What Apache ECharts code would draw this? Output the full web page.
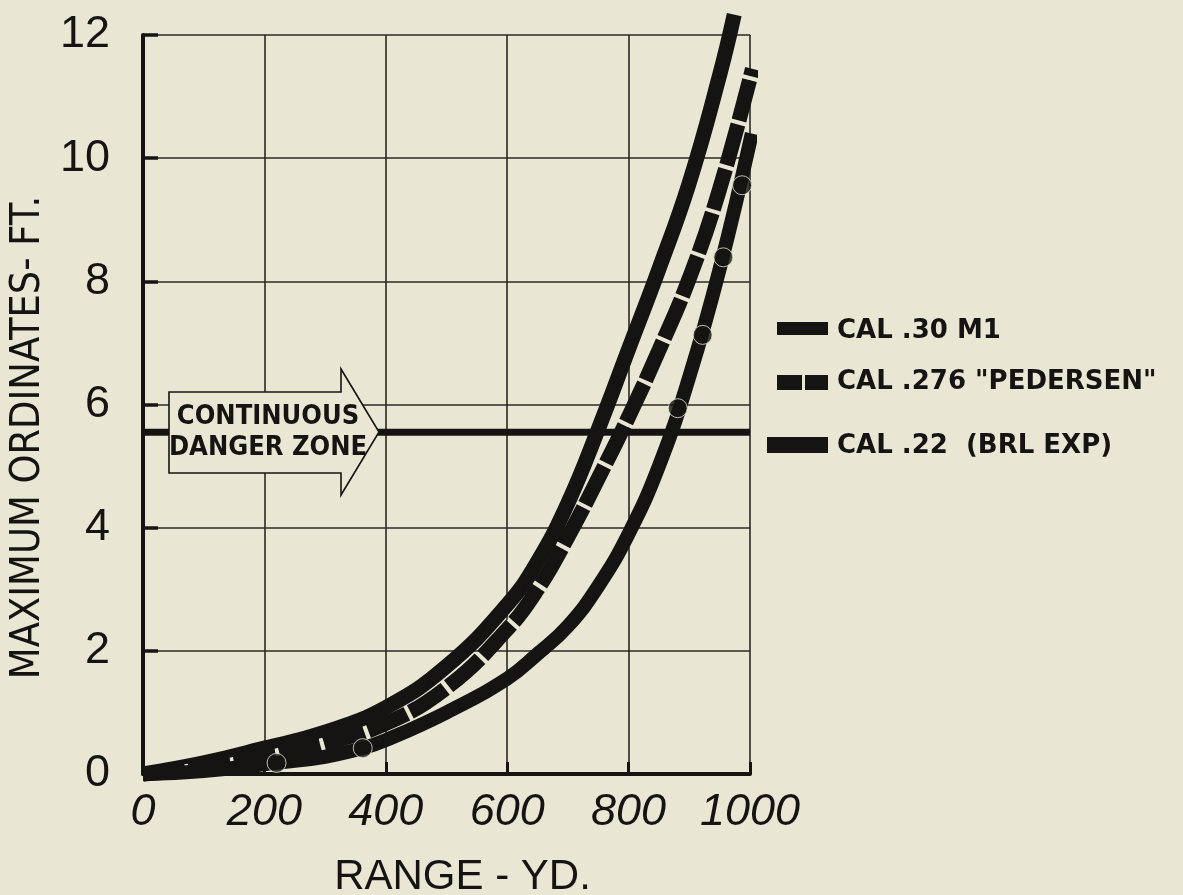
<!DOCTYPE html>
<html><head><meta charset="utf-8">
<script src="https://cdn.jsdelivr.net/npm/echarts@6/dist/echarts.min.js"></script>
<style>html,body{margin:0;padding:0;background:#E9E7D4}#c{width:1183px;height:895px}</style>
</head><body><div id="c"></div>
<script>
// ---- data ----
const xTicks = [0, 200, 400, 600, 800, 1000];
const yTicks = [0, 2, 4, 6, 8, 10, 12];
const seriesNames = ['CAL .30 M1', 'CAL .276 "PEDERSEN"', 'CAL .22  (BRL EXP)'];

const m1X = [0, 100, 200, 300, 400, 500, 600, 650, 700, 750, 800, 850, 900, 950, 974];
const m1Y = [0, 0.18, 0.42, 0.68, 1.08, 1.75, 2.75, 3.45, 4.4, 5.6, 6.9, 8.2, 9.6, 11.35, 12.33];

const pedX = [0, 100, 200, 300, 400, 500, 600, 650, 700, 750, 800, 850, 900, 950, 1004];
const pedY = [0, 0.1, 0.28, 0.5, 0.82, 1.4, 2.35, 3.0, 3.85, 4.8, 5.8, 6.88, 8.05, 9.5, 11.45];

const brlX = [0, 100, 220, 300, 362, 400, 500, 600, 650, 700, 750, 800, 850, 900, 950, 1003];
const brlY = [0, 0.05, 0.18, 0.28, 0.42, 0.55, 1.0, 1.55, 1.95, 2.4, 3.05, 3.9, 5.0, 6.45, 8.2, 10.4];

const brlDotX = [220, 362, 881, 922, 956, 987];
const brlDotY = [0.18, 0.42, 5.94, 7.13, 8.39, 9.56];

const dangerX = [0, 1000];
const dangerY = 5.55;
const dangerLabel = ['CONTINUOUS', 'DANGER ZONE'];

const xName = 'RANGE - YD.';
const yName = 'MAXIMUM ORDINATES- FT.';

// ---- styling ----
const BG = '#E9E7D4';
const INK = '#151412';
const GRIDC = '#2a2824';
const SANS = "'Liberation Sans', Arial, sans-serif";
const COND = "'DejaVu Sans Condensed', 'DejaVu Sans', sans-serif";
const zip = (xs, ys) => xs.map((x, i) => [x, ys[i]]);

const chart = echarts.init(document.getElementById('c'), null, {renderer: 'canvas'});

const lineBase = {type: 'line', showSymbol: false, clip: false, smooth: 0.45, silent: true, animation: false};

chart.setOption({
  backgroundColor: BG,
  animation: false,
  grid: {left: 143, right: 433, top: 35, bottom: 121, containLabel: false, outerBoundsMode: 'none'},
  xAxis: {
    type: 'value', min: xTicks[0], max: xTicks[xTicks.length - 1], interval: xTicks[1] - xTicks[0],
    name: xName, nameLocation: 'middle', nameGap: 82,
    nameTextStyle: {fontFamily: SANS, fontSize: 42, color: INK, padding: [0, 0, 0, 32]},
    axisLine: {show: true, onZero: false, lineStyle: {color: INK, width: 4}},
    axisTick: {show: true, inside: true, length: 12, lineStyle: {color: INK, width: 3}},
    axisLabel: {fontFamily: SANS, fontSize: 45, fontStyle: 'italic', color: INK, margin: 16,
                formatter: v => String(v)},
    splitLine: {show: true, lineStyle: {color: GRIDC, width: 1.6}}
  },
  yAxis: {
    type: 'value', min: yTicks[0], max: yTicks[yTicks.length - 1], interval: yTicks[1] - yTicks[0],
    name: yName, nameLocation: 'middle', nameGap: 72, nameRotate: 90,
    nameTextStyle: {fontFamily: COND, fontSize: 41, color: INK, padding: [0, 66, 0, 0]},
    axisLine: {show: true, lineStyle: {color: INK, width: 4}},
    axisTick: {show: true, inside: true, length: 15, lineStyle: {color: INK, width: 3.5}},
    axisLabel: {fontFamily: SANS, fontSize: 45, color: INK, margin: 33, formatter: v => String(v)},
    splitLine: {show: true, lineStyle: {color: GRIDC, width: 1.6}}
  },
  series: [
    {type: 'line', name: 'danger', data: dangerX.map(x => [x, dangerY]), showSymbol: false, silent: true,
     lineStyle: {color: INK, width: 7}, z: 2},
    Object.assign({}, lineBase, {name: seriesNames[0], data: zip(m1X, m1Y),
     lineStyle: {color: INK, width: 15, cap: 'butt'}, z: 3}),
    Object.assign({}, lineBase, {name: 'gaps', data: zip(pedX, pedY),
     lineStyle: {color: BG, width: 12, type: [4, 42], dashOffset: 4, cap: 'butt'}, z: 4}),
    Object.assign({}, lineBase, {name: seriesNames[1], data: zip(pedX, pedY),
     lineStyle: {color: INK, width: 15, type: [42, 4], dashOffset: 0, cap: 'butt'}, z: 5}),
    Object.assign({}, lineBase, {name: seriesNames[2], data: zip(brlX, brlY),
     lineStyle: {color: INK, width: 14, cap: 'butt'}, z: 6}),
    {type: 'scatter', name: seriesNames[2] + ' dots', data: zip(brlDotX, brlDotY), symbol: 'circle', symbolSize: 19,
     itemStyle: {color: INK, borderColor: BG, borderWidth: 1}, clip: false, silent: true, z: 7}
  ]
});

// ---- annotations: arrow box + legend (layout in pixels) ----
const arrowPts = [[169, 392], [341, 392], [341, 369], [379, 432], [341, 495], [341, 473], [169, 473]];
const legendRows = [
  {rects: [[777, 322, 51, 13]], ty: 331},
  {rects: [[777, 375, 25, 15], [805, 375, 23, 15]], ty: 382},
  {rects: [[767, 437, 61, 16]], ty: 446}
];
const gfx = [
  {type: 'polygon', z: 100, shape: {points: arrowPts}, style: {fill: BG, stroke: INK, lineWidth: 1.6}},
  {type: 'text', z: 101, x: 268, y: 417, style: {text: dangerLabel[0], fill: INK, font: "bold 27px " + COND, textAlign: 'center', textVerticalAlign: 'middle'}},
  {type: 'text', z: 101, x: 268, y: 448, style: {text: dangerLabel[1], fill: INK, font: "bold 27px " + COND, textAlign: 'center', textVerticalAlign: 'middle'}}
];
legendRows.forEach((row, i) => {
  row.rects.forEach(r => gfx.push({type: 'rect', z: 100, shape: {x: r[0], y: r[1], width: r[2], height: r[3]}, style: {fill: INK}}));
  gfx.push({type: 'text', z: 101, x: 837, y: row.ty, style: {text: seriesNames[i], fill: INK, font: "bold 26px 'DejaVu Sans', sans-serif", textAlign: 'left', textVerticalAlign: 'middle'}});
});
chart.setOption({graphic: gfx});
</script>
</body></html>
